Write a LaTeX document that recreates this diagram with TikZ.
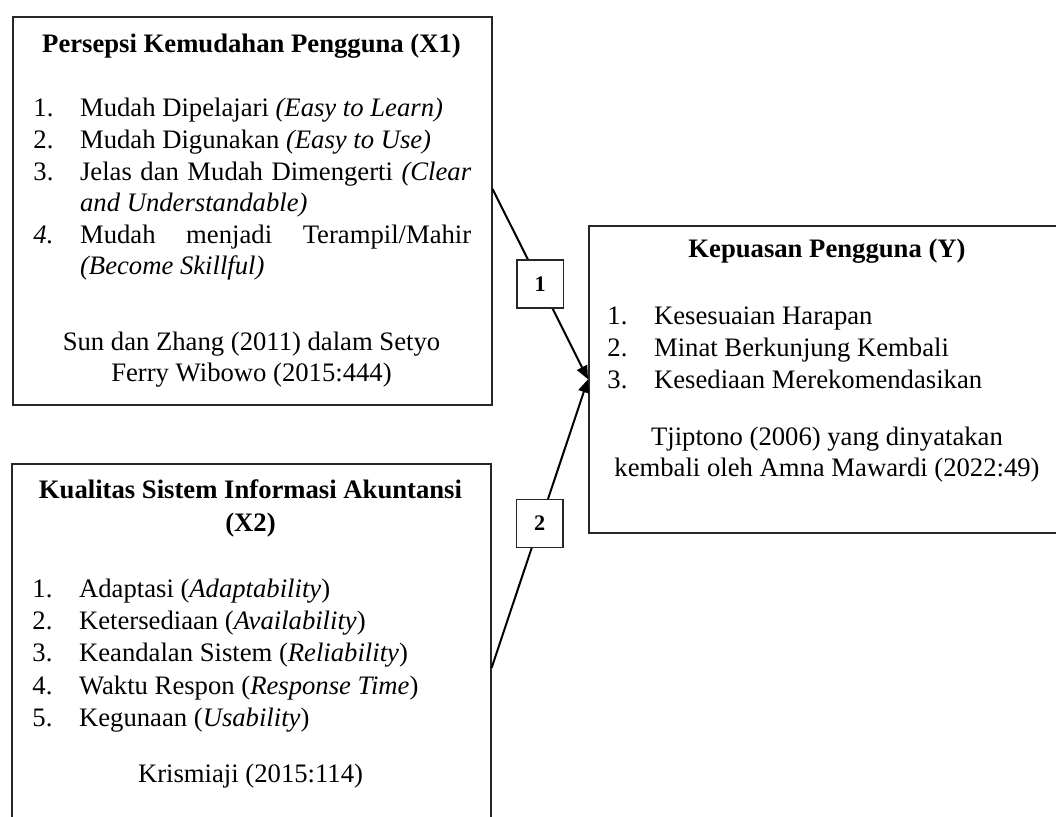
\documentclass[tikz,border=0pt]{standalone}
\usepackage{fontspec}
\setmainfont{Liberation Serif}
\usetikzlibrary{arrows.meta, positioning, calc}

\newcommand{\numitem}[2]{\hangindent=21pt\hangafter=1\noindent\makebox[21pt][l]{#1}#2\par}

\begin{document}
\begin{tikzpicture}[
    x=0.45pt, y=-0.45pt,
    font=\fontsize{12}{14.2}\selectfont,
    varbox/.style={
        draw=black!85,
        line width=0.7pt,
        minimum width=215.55pt,
        inner sep=0pt,
        anchor=north west
    },
    block title/.style={
        font=\fontsize{12}{15.2}\selectfont\bfseries,
        align=center,
        anchor=base,
        inner sep=0pt
    },
    item list/.style={
        text width=197pt,
        align=justify,
        anchor=base west,
        inner sep=0pt
    },
    source/.style={
        align=center,
        anchor=base,
        inner sep=0pt
    },
    path label/.style={
        draw=black!85,
        fill=white,
        line width=0.6pt,
        font=\fontsize{10}{12}\selectfont\bfseries,
        minimum width=21pt,
        minimum height=21.6pt,
        inner sep=0pt
    },
    influence/.style={
        -{Triangle[length=6pt, width=5pt]},
        line width=0.9pt
    }
]
    \useasboundingbox (0,0) rectangle (1056,817);
    \clip (0,0) rectangle (1056,817);

    % --- A. PERSEPSI KEMUDAHAN PENGGUNA (X1) ---
    \node[varbox, minimum height=174.6pt] (x1) at (12,16) {};
    \node[block title] (x1title) at (251.5,53) {Persepsi Kemudahan Pengguna (X1)};
    \node[item list] (x1list) at (33,117) {
        \numitem{1.}{Mudah Dipelajari \textit{(Easy to Learn)}}
        \numitem{2.}{Mudah Digunakan \textit{(Easy to Use)}}
        \numitem{3.}{Jelas dan Mudah Dimengerti \textit{(Clear}\linebreak \textit{and Understandable)}}
        \numitem{\textit{4.}}{Mudah menjadi Terampil/Mahir\linebreak \textit{(Become Skillful)}}
    };
    \node[source] (x1src) at (251.5,382) {Sun dan Zhang (2011) dalam Setyo\\Ferry Wibowo (2015:444)};

    % --- B. KUALITAS SISTEM INFORMASI AKUNTANSI (X2) ---
    \node[varbox, minimum height=180pt] (x2) at (11,463) {};
    \node[block title] (x2title) at (250.5,532) {Kualitas Sistem Informasi Akuntansi\\(X2)};
    \node[item list, font=\fontsize{12}{14.6}\selectfont] (x2list) at (32,597) {
        \numitem{1.}{Adaptasi (\textit{Adaptability})}
        \numitem{2.}{Ketersediaan (\textit{Availability})}
        \numitem{3.}{Keandalan Sistem (\textit{Reliability})}
        \numitem{4.}{Waktu Respon (\textit{Response Time})}
        \numitem{5.}{Kegunaan (\textit{Usability})}
    };
    \node[source] (x2src) at (250.5,782) {Krismiaji (2015:114)};

    % --- C. KEPUASAN PENGGUNA (Y) ---
    \node[varbox, minimum width=215.1pt, minimum height=138.15pt] (y) at (588,225) {};
    \node[block title] (ytitle) at (827,258) {Kepuasan Pengguna (Y)};
    \node[item list] (ylist) at (607,325) {
        \numitem{1.}{Kesesuaian Harapan}
        \numitem{2.}{Minat Berkunjung Kembali}
        \numitem{3.}{Kesediaan Merekomendasikan}
    };
    \node[source] (ysrc) at (827,477) {Tjiptono (2006) yang dinyatakan\\kembali oleh Amna Mawardi (2022:49)};

    % PATHS
    \coordinate (x1out) at ($(x1.north east)+(0,173)$);
    \coordinate (x2out) at ($(x2.north east)+(0,205)$);

    \draw[influence] (x1out) -- node[path label] (p1) {1} (y.west);
    \draw[influence] (x2out) -- node[path label] (p2) {2} (y.west);

\end{tikzpicture}
\end{document}
